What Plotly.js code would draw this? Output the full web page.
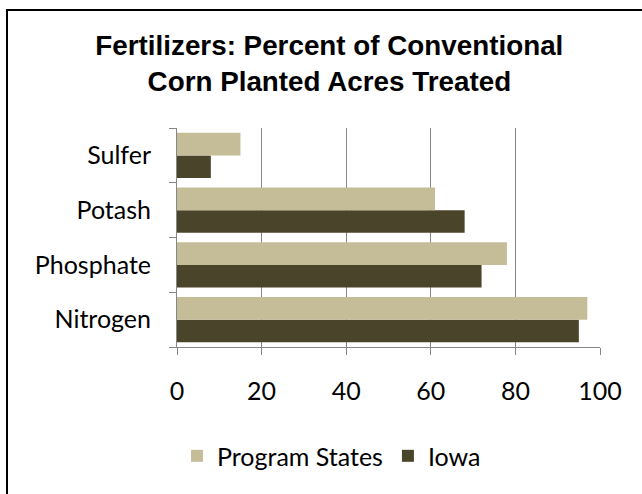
<!DOCTYPE html>
<html>
<head>
<meta charset="utf-8">
<script src="https://cdn.plot.ly/plotly-3.0.1.min.js"></script>
<style>
  html, body { margin: 0; padding: 0; background: #fff; overflow: hidden; }
  #chart { width: 642px; height: 494px; }
  #frame { position: absolute; left: 6px; top: 9px; width: 700px; height: 600px;
           border-top: 2px solid #000; border-left: 2px solid #000; pointer-events: none; }
</style>
</head>
<body>
<div id="chart"></div>
<div id="frame"></div>
<script>
const categories = ['Nitrogen', 'Phosphate', 'Potash', 'Sulfer'];
const programStates = [97, 78, 61, 15];
const iowa = [95, 72, 68, 8];
const xTicks = [0, 20, 40, 60, 80, 100];

const labelFont = { family: 'Lato, "Open Sans", sans-serif', size: 25, color: '#000' };

const traces = [
  { type: 'bar', orientation: 'h', name: 'Iowa', y: categories, x: iowa,
    marker: { color: '#4A452A' } },
  { type: 'bar', orientation: 'h', name: 'Program States', y: categories, x: programStates,
    marker: { color: '#C4BD97' } }
];

const layout = {
  width: 642, height: 494,
  margin: { l: 177, r: 42, t: 128, b: 147 },
  paper_bgcolor: '#fff', plot_bgcolor: '#fff',
  title: {
    text: '<b>Fertilizers: Percent of Conventional<br>Corn Planted Acres Treated</b>',
    font: { family: '"Liberation Sans", Arial, sans-serif', size: 27.8, color: '#000' },
    x: 0.513, xanchor: 'center', y: 0.888, yanchor: 'top'
  },
  barmode: 'group', bargap: 0.175, bargroupgap: 0,
  xaxis: {
    range: [0, 100], tickvals: xTicks, ticktext: xTicks.map(String),
    showgrid: true, gridcolor: '#868686', gridwidth: 1,
    showline: true, linecolor: '#868686', linewidth: 1,
    ticks: 'outside', ticklen: 7, tickcolor: '#868686',
    ticklabelstandoff: 15,
    zeroline: false, tickfont: labelFont, fixedrange: true
  },
  yaxis: {
    type: 'category', categoryorder: 'array', categoryarray: categories,
    showline: true, linecolor: '#868686', linewidth: 1,
    ticks: 'outside', ticklen: 7, tickcolor: '#868686', tickson: 'boundaries',
    showgrid: false, ticklabelstandoff: 20,
    tickfont: labelFont, fixedrange: true
  },
  showlegend: true,
  legend: {
    orientation: 'h', traceorder: 'reversed',
    x: 0.0, xanchor: 'left', y: -0.498, yanchor: 'middle',
    font: labelFont, itemsizing: 'constant'
  }
};

Plotly.newPlot('chart', traces, layout, { displayModeBar: false, staticPlot: true });
</script>
</body>
</html>
